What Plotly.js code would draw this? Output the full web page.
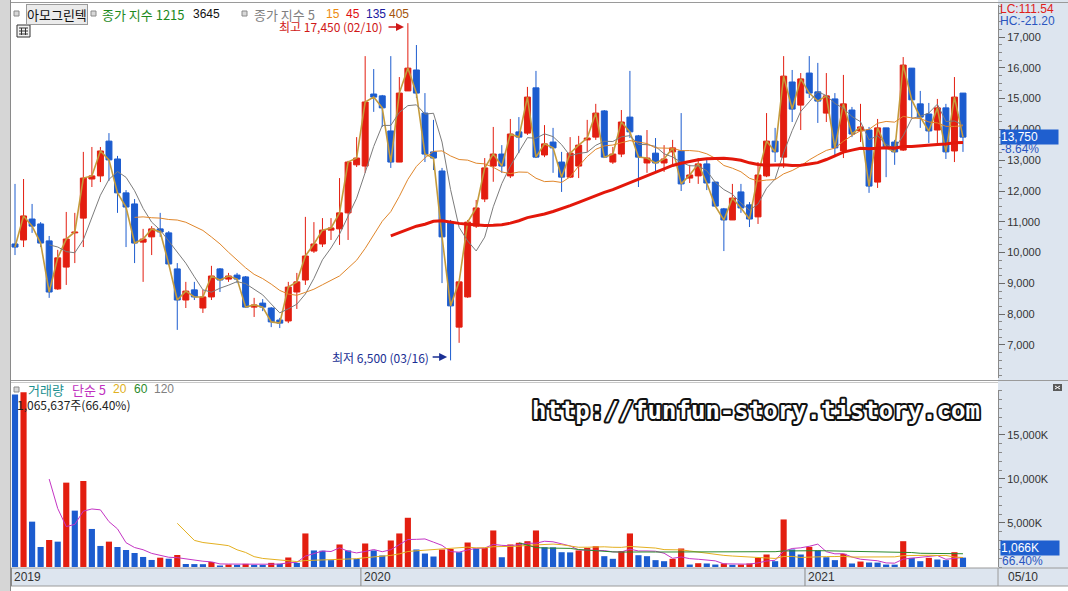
<!DOCTYPE html>
<html><head><meta charset="utf-8">
<script src="https://cdn.plot.ly/plotly-3.0.1.min.js"></script>
<style>html,body{margin:0;padding:0;background:#fff;overflow:hidden}#chart{width:1068px;height:591px}</style>
</head><body><div id="chart"></div>
<script>
// ---- data (weekly, 아모그린텍, 2019-03 .. 2021-05-10) ----
const openP = [10280,10410,11090,10930,10380,8820,9530,10640,11120,12390,12490,13620,13040,11940,11580,10340,10510,10770,10640,9470,
8460,8790,8200,8560,9470,9140,9270,9210,8230,8360,8200,7810,7780,8720,9110,10050,10280,10730,10770,11290,
12850,12810,15150,15090,13950,12940,15250,15930,14530,13270,12650,10990,7580,8560,10860,11740,12810,13200,12490,13920,
13880,15350,13170,13590,12940,12450,12810,13660,13750,14600,12940,13200,14400,13790,12910,13230,12910,13270,13300,12420,
12490,12880,12290,11420,11060,11970,11550,11160,12490,13620,13100,15540,14790,15830,15220,14530,14990,13300,14630,13950,
13980,12290,14050,13590,13330,15990,14830,14500,13980,14700,13300,15180];
const highP = [12230,12390,11580,10990,10540,10090,11320,11290,13270,13430,13430,13880,13140,12030,11740,10770,10860,11290,10700,9660,
9050,9050,8790,9570,9500,9340,9340,9240,8530,8490,8230,7880,9050,9340,11160,10990,11120,11120,12420,12980,
13750,16380,15960,15120,16380,15700,17450,16740,15180,14310,12750,11060,9050,11060,11710,13070,14080,13490,14340,14400,
15380,15900,14140,14050,13270,13750,13790,14310,14830,14630,13430,14630,15900,13820,13980,13720,13490,13660,14530,12850,
13070,13070,12300,11450,12230,12230,11640,12940,14530,14050,16380,15930,15830,16380,16160,15830,15180,15770,14730,14830,
14080,14340,14050,13660,16350,15990,15250,14860,14990,14830,15700,15180];
const lowP = [9920,10180,10640,10180,8530,8790,8950,9660,10180,12130,12290,12330,11290,10180,9660,9050,9920,10510,9600,7490,
8200,8460,8040,8460,8720,9050,9010,8200,7910,8100,7580,7550,7710,8170,8950,9990,10180,10410,10250,10410,
12780,12590,14570,14080,12750,12940,15250,15020,12940,12680,9010,6500,7070,8530,10800,11640,12300,12590,12420,13230,
13820,13070,13100,12590,11970,12420,12420,13270,13660,13070,12880,13100,13720,12130,12590,12590,12620,12780,12000,12260,
12230,12030,11480,10050,11060,11290,10830,10930,12450,12940,12750,14240,13980,15020,14210,14240,13100,13070,13750,13590,
11940,12100,12450,12850,13300,14370,14050,13560,13560,13040,12940,13270];
const closeP = [10180,11190,10860,10310,8720,9830,10440,10670,12420,12490,13300,13010,11940,11480,10310,10440,10770,10670,9630,8460,
8750,8560,8560,9240,9110,9240,9140,8230,8300,8230,7750,7710,8880,9050,9890,10280,10730,10800,11290,12940,
13070,14890,15050,14700,12940,15180,15990,15180,13200,13070,10510,8270,9050,10990,11450,12750,13200,12810,13850,13750,
15050,13100,13530,13400,12450,13230,13490,13720,14530,13100,13200,14240,13920,13100,13070,12910,13040,13400,12230,12520,
12880,12260,11510,11060,11770,11450,11090,12520,13620,13270,15730,14660,15640,15180,14920,15090,13400,14830,13850,14080,
12160,14050,13400,13270,16090,14960,14400,13950,14700,13270,15050,13750];
// volume in thousands of shares (K)
const volumeK = [19600,19850,5150,2270,3070,2880,9580,6400,9770,4320,2390,2880,2270,1930,1590,1140,800,1060,940,1360,
340,330,320,570,170,280,250,360,250,240,470,360,1080,470,3810,1880,1850,780,2560,1880,
930,2670,1880,1310,3010,3810,5590,1990,1530,1190,1990,2050,1680,2780,2100,2150,4150,1110,2560,2750,
2930,4150,2250,2230,1680,1660,1880,2180,2360,1230,930,1800,3810,1340,1230,780,660,930,2100,280,
430,400,280,400,250,280,400,1040,1420,660,5400,1990,1420,2290,1880,1110,780,1500,400,620,
510,500,280,270,2930,1040,660,1040,850,780,1680,1066];
const yearLabels = ['2019','2020','2021'];
const yearStartIdx = [0, 41, 93];
const priceTicks = [7000,8000,9000,10000,11000,12000,13000,14000,15000,16000,17000];
const volTicks = [5000,10000,15000];
const volTickText = ['5,000K','10,000K','15,000K'];
const lastDateLabel = '05/10';

// ---- helpers ----
const L=11, R=998, T=5, B=567;
const XMIN=-0.47, XMAX=115.1;
const PX = p => (p-L)/(R-L);
const PY = p => (B-p)/(B-T);
const IX = i => L + (i-XMIN)/(XMAX-XMIN)*(R-L);   // index -> pixel (for label placement only)
const RED='#e31e10', BLUE='#1c5ccf';
const idx = closeP.map((_,i)=>i);
function sma(a,n){return a.map((_,i)=>{if(i<n-1)return null;let s=0;for(let k=i-n+1;k<=i;k++)s+=a[k];return s/n;});}

const candleCol = idx.map(i => closeP[i] >= openP[i] ? RED : BLUE);
const volCol = idx.map(i => (i>0 && volumeK[i] >= volumeK[i-1]) ? RED : BLUE);

function wick(up){
  const xs=[], ys=[];
  idx.forEach(i=>{ if((closeP[i]>=openP[i])===up){xs.push(i,i,null); ys.push(lowP[i],highP[i],null);} });
  return {type:'scatter',mode:'lines',x:xs,y:ys,xaxis:'x',yaxis:'y',line:{color:up?RED:BLUE,width:1},hoverinfo:'skip'};
}
const bodies = {type:'bar',x:idx,base:idx.map(i=>Math.min(openP[i],closeP[i])),
  y:idx.map(i=>Math.abs(closeP[i]-openP[i])),width:0.7,xaxis:'x',yaxis:'y',
  marker:{color:candleCol,line:{color:candleCol,width:1}}};
const line = (y,c,w,ax)=>({type:'scatter',mode:'lines',x:idx,y:y,xaxis:'x',yaxis:ax,line:{color:c,width:w},connectgaps:false,hoverinfo:'skip'});
const volBars = {type:'bar',x:idx,y:volumeK,width:0.72,xaxis:'x',yaxis:'y2',marker:{color:volCol,line:{width:0}}};

const data = [wick(true),wick(false),bodies,
  line(closeP,'#c59b3c',1.6,'y'),
  line(sma(closeP,5),'#7c7c7c',1,'y'),
  line(sma(closeP,15),'#e0862a',1,'y'),
  line(sma(closeP,45),'#e3170a',3,'y'),
  volBars,
  line(sma(volumeK,5),'#c435c4',1,'y2'),
  line(sma(volumeK,20),'#e4b020',1,'y2'),
  line(sma(volumeK,60),'#2b8a2b',1,'y2')];

const KR = 'Noto Sans CJK KR, Noto Sans, sans-serif';
const NUM = 'Liberation Sans, Arial, sans-serif';
const ann = [];
function txt(t,x,y,color,size,opts,fam){ann.push(Object.assign({text:t,xref:'paper',yref:'paper',x:PX(x),y:PY(y),xanchor:'left',yanchor:'middle',showarrow:false,borderpad:0,font:{family:fam||KR,size:size||12,color:color}},opts||{}));}

// price legend
txt('아모그린텍',26,14,'#111',13,{bgcolor:'#ebebeb',bordercolor:'#9a9a9a',borderwidth:1,borderpad:0});
txt('종가 지수 1215',101,14,'#1d8a1d',13);
txt('3645',192,14,'#111',12,null,NUM);
txt('종가 지수 5',253,14,'#808080',13);
txt('15',325,14,'#ee8a10',12,null,NUM);
txt('45',345,14,'#e01010',12,null,NUM);
txt('135',365,14,'#1a1aa0',12,null,NUM);
txt('405',388,14,'#a4540c',12,null,NUM);
// max / min annotations
txt('최고 17,450 (02/10)',384,27,'#d01818',12,{xanchor:'right'});
ann.push({text:'',xref:'x',yref:'paper',x:45.55,y:PY(27),showarrow:true,ax:-17,ay:0,arrowhead:2,arrowsize:1,arrowwidth:1.6,arrowcolor:'#d01818'});
txt('최저 6,500 (03/16)',430,357,'#1a2f94',12,{xanchor:'right'});
ann.push({text:'',xref:'x',yref:'paper',x:50.6,y:PY(357),showarrow:true,ax:-16,ay:0,arrowhead:2,arrowsize:1,arrowwidth:1.6,arrowcolor:'#1a2f94'});
// right side labels
txt('LC:111.54',999,9,'#e0201a',12,null,NUM);
txt('HC:-21.20',999,21,'#2a55c0',12,null,NUM);
ann.push({text:'13,750'+'&nbsp;'.repeat(6),xref:'paper',yref:'y',x:PX(1000),y:closeP[closeP.length-1],xanchor:'left',yanchor:'middle',showarrow:false,bgcolor:'#1f5fcf',borderpad:0,font:{family:NUM,size:12,color:'#ffffff'}});
txt('-8.64%',1000,149,'#2a55c0',12,null,NUM);
// volume legend
txt('거래량',27,389,'#1c9090',13);
txt('단순 5',71,389,'#c030c0',13);
txt('20',112,389,'#e0b020',12,null,NUM);
txt('60',133,389,'#2a8a2a',12,null,NUM);
txt('120',153,389,'#808080',12,null,NUM);
txt('1,065,637주(66.40%)',16,404,'#222',12);
ann.push({text:'1,066K'+'&nbsp;'.repeat(6),xref:'paper',yref:'paper',x:PX(1000),y:PY(548),xanchor:'left',yanchor:'middle',showarrow:false,bgcolor:'#1f5fcf',borderpad:0,font:{family:NUM,size:12,color:'#ffffff'}});
txt('66.40%',1001,561,'#2a55c0',12,null,NUM);
// date strip
yearLabels.forEach((t,k)=>txt(t,IX(yearStartIdx[k]-0.5)+2,577,'#333',12,null,NUM));
txt(lastDateLabel,1007,577,'#333',12,null,NUM);
// watermark (outlined via stroke after render)
ann.push({text:'<b>http://funfun-story.tistory.com</b>',xref:'paper',yref:'paper',x:PX(756),y:PY(411),xanchor:'center',yanchor:'middle',showarrow:false,font:{family:'DejaVu Sans Mono',size:24,color:'#ffffff'}});

// shapes
const shapes = [];
const rectP=(x0,y0,x1,y1,fill,lc,lw,layer)=>shapes.push({type:'rect',xref:'paper',yref:'paper',x0:PX(x0),x1:PX(x1),y0:PY(y1),y1:PY(y0),fillcolor:fill,line:{color:lc||fill,width:lw===undefined?0:lw},layer:layer||'below'});
const lineP=(x0,y0,x1,y1,c,w,layer)=>shapes.push({type:'line',xref:'paper',yref:'paper',x0:PX(x0),x1:PX(x1),y0:PY(y0),y1:PY(y1),line:{color:c,width:w||1},layer:layer||'above'});
rectP(0,0,10,591,'#d6d6d6');
rectP(998,0,1068,568,'#dde5ef');
rectP(11,568,1068,586,'#dde5ef');
lineP(10.5,0,10.5,591,'#8a8a8a',1);
lineP(11,2.5,1068,2.5,'#9a9a9a',1);
lineP(11,380.5,1068,380.5,'#9a9a9a',1);
lineP(11,382.5,998,382.5,'#c8c8c8',1);
lineP(11,568,1068,568,'#9a9a9a',1);
lineP(11,586,1068,586,'#9a9a9a',1);
lineP(998,568,998,586,'#9a9a9a',1);
yearStartIdx.forEach(i=>{const p=Math.max(IX(i-0.5),11.5);lineP(p,568,p,586,'#8a8a8a',1);});
// small legend squares
[[14,11,19,16],[91,11,96,16],[242,11,247,16],[14,387,19,392]].forEach(s=>rectP(s[0],s[1],s[2],s[3],'#d8d8d8','#8a8a8a',1,'above'));
// grid icon
rectP(17,25,30,37,'#f2f2f2','#333',1,'above');
lineP(19,28,28,28,'#333',1);lineP(19,31,28,31,'#333',1);lineP(19,34,28,34,'#333',1);
lineP(21.5,28,21.5,35,'#333',1);lineP(25.5,28,25.5,35,'#333',1);
// close button in volume panel
rectP(1053,384,1062,391,'#5a5a5a','#5a5a5a',0,'above');
lineP(1055,386,1060,389,'#fff',1);lineP(1055,389,1060,386,'#fff',1);

const layout = {
  width:1068,height:591,margin:{l:L,r:1068-R,t:T,b:591-B,autoexpand:false},
  paper_bgcolor:'#ffffff',plot_bgcolor:'rgba(0,0,0,0)',showlegend:false,barmode:'overlay',hovermode:false,
  xaxis:{range:[XMIN,XMAX],showticklabels:false,showgrid:false,zeroline:false,ticks:'',anchor:'y2',fixedrange:true},
  yaxis:{domain:[(B-378)/(B-T),1],range:[5928,18040],side:'right',tickvals:priceTicks,tickformat:',d',
    ticks:'outside',ticklen:6,tickcolor:'#6a6a6a',tickfont:{family:NUM,size:11,color:'#333'},
    showgrid:false,zeroline:false,showline:true,linecolor:'#8a8a8a',linewidth:1,
    minor:{ticks:'outside',ticklen:3,tickcolor:'#8a8a8a',tick0:0,dtick:250},anchor:'x'},
  yaxis2:{domain:[0,(B-390)/(B-T)],range:[0,20100],side:'right',tickvals:volTicks,ticktext:volTickText,
    ticks:'outside',ticklen:6,tickcolor:'#6a6a6a',tickfont:{family:NUM,size:11,color:'#333'},
    showgrid:false,zeroline:false,showline:true,linecolor:'#8a8a8a',linewidth:1,
    minor:{ticks:'outside',ticklen:3,tickcolor:'#8a8a8a',tick0:0,dtick:1000},anchor:'x'},
  annotations:ann,shapes:shapes
};
Plotly.newPlot('chart',data,layout,{staticPlot:true,displayModeBar:false}).then(()=>{
  document.querySelectorAll('.annotation-text').forEach(el=>{
    if(el.textContent.indexOf('funfun')>=0){
      el.style.setProperty('stroke','#111');
      el.style.setProperty('stroke-width','4px');
      el.style.setProperty('stroke-linejoin','round');
      el.style.setProperty('paint-order','stroke');
    }
  });
});
</script></body></html>
